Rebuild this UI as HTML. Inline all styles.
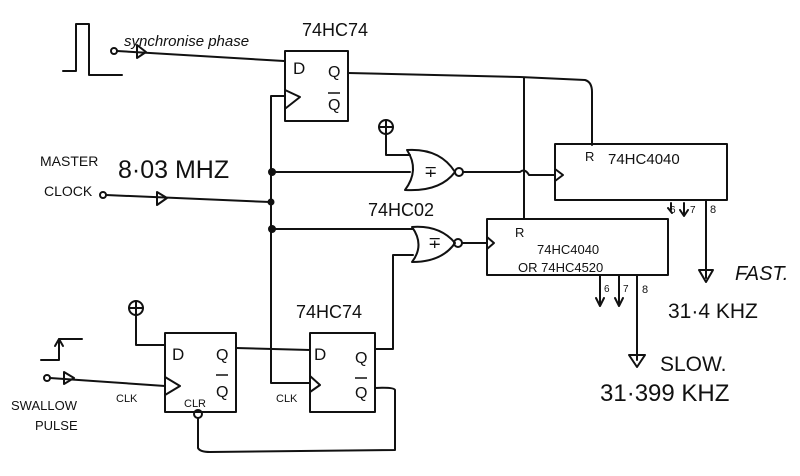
<!DOCTYPE html><html><head><style>body{margin:0;background:#fff}svg{display:block}text{font-family:"Liberation Sans",sans-serif;fill:#111}</style></head><body>
<svg width="800" height="476" viewBox="0 0 800 476" xmlns="http://www.w3.org/2000/svg">
<g fill="none" stroke="#111" stroke-width="2" stroke-linejoin="round" stroke-linecap="round">
<!-- top pulse -->
<path d="M63 71H76V24H89V75H122"/>
<circle cx="114" cy="51" r="3"/>
<path d="M117 51L284 61"/>
<path d="M137 45L146 52L137 58Z"/>
<!-- top FF -->
<rect x="285" y="51" width="63" height="70"/>
<path d="M285 90L300 97L286 108"/>
<path d="M285 96H271V383H310"/>
<!-- top FF Q -->
<path d="M348 73L520 77L585 80Q592 82 592 92V145"/>
<path d="M524 78V218"/>
<!-- master clock -->
<circle cx="103" cy="195" r="3"/>
<path d="M106 195L270 202"/>
<path d="M157 192L167 198L157 205Z"/>
<circle cx="272" cy="172" r="3" fill="#111"/><circle cx="271" cy="202" r="2.5" fill="#111"/><circle cx="272" cy="229" r="3" fill="#111"/>
<!-- top NOR -->
<path d="M272 172H410"/>
<circle cx="386" cy="127" r="7"/><path d="M379 127H393M386 120V134"/>
<path d="M386 134V155H410"/>
<path d="M407 150Q440 148 455 172Q440 192 405 190Q420 170 407 150Z"/>
<circle cx="459" cy="172" r="4"/>
<path d="M463 172H520Q525 168 529 175H555"/>
<path d="M555 169L563 175L555 181"/>
<rect x="555" y="144" width="172" height="56"/>
<path d="M671 203V210M668 208L672 213M684 203V215M680 210L684 216L688 210M706 200V278"/>
<path d="M699 270L706 282L713 270Z"/>
<!-- bottom NOR -->
<path d="M272 229H413"/>
<path d="M412 227Q440 225 455 243Q442 262 412 262Q425 245 412 227Z"/>
<circle cx="458" cy="243" r="4"/>
<path d="M462 243H487"/>
<path d="M487 237L494 243L487 249"/>
<rect x="487" y="219" width="181" height="56"/>
<path d="M393 255H413M393 255V349H375"/>
<path d="M600 276V305M596 298L600 306L604 298M619 276V305M615 298L619 306L623 298M637 276V360"/>
<path d="M629 355L637 367L645 355Z"/>
<!-- bottom left -->
<path d="M41 360H59V339H82"/><path d="M55 346L59 339L63 346"/>
<circle cx="47" cy="378" r="3"/><path d="M50 378L165 386"/><path d="M64 372L74 378L64 384Z"/>
<circle cx="136" cy="308" r="7"/><path d="M129 308H143M136 301V315"/>
<path d="M136 315V345H165"/>
<rect x="165" y="333" width="71" height="79"/>
<path d="M165 377L180 386L165 395"/>
<path d="M236 348L310 350"/>
<circle cx="198" cy="414" r="4"/>
<path d="M198 418V448Q200 452 210 452L395 450V390Q394 387 375 388"/>
<rect x="310" y="333" width="65" height="79"/>
<path d="M310 376L320 385L310 392"/>
</g>
<g font-size="14">
<text x="124" y="46" font-size="15" font-style="italic">synchronise phase</text>
<text x="302" y="36" font-size="18">74HC74</text>
<text x="293" y="74" font-size="17">D</text><text x="328" y="77" font-size="16">Q</text><text x="328" y="110" font-size="16">Q</text>
<path d="M328 93H340" stroke="#111" stroke-width="1.5"/>
<text x="40" y="166" font-size="14">MASTER</text>
<text x="44" y="196" font-size="14">CLOCK</text>
<text x="118" y="178" font-size="25">8·03 MHZ</text>
<text x="424" y="177" font-size="16">∓</text>
<text x="428" y="248" font-size="16">∓</text>
<text x="368" y="216" font-size="18">74HC02</text>
<text x="585" y="161" font-size="13">R</text><text x="608" y="164" font-size="15">74HC4040</text>
<text x="670" y="213" font-size="10">6</text><text x="690" y="213" font-size="10">7</text><text x="710" y="213" font-size="11">8</text>
<text x="735" y="280" font-size="20" font-style="italic">FAST.</text>
<text x="668" y="318" font-size="21">31·4 KHZ</text>
<text x="515" y="237" font-size="13">R</text>
<text x="537" y="254" font-size="13">74HC4040</text>
<text x="518" y="272" font-size="13">OR 74HC4520</text>
<text x="604" y="292" font-size="10">6</text><text x="623" y="292" font-size="10">7</text><text x="642" y="293" font-size="11">8</text>
<text x="660" y="371" font-size="21">SLOW.</text>
<text x="600" y="401" font-size="24">31·399 KHZ</text>
<text x="296" y="318" font-size="18">74HC74</text>
<text x="172" y="360" font-size="17">D</text><text x="216" y="360" font-size="16">Q</text><text x="216" y="397" font-size="16">Q</text>
<path d="M216 375H228" stroke="#111" stroke-width="1.5"/>
<text x="314" y="360" font-size="17">D</text><text x="355" y="363" font-size="16">Q</text><text x="355" y="398" font-size="16">Q</text>
<path d="M355 378H367" stroke="#111" stroke-width="1.5"/>
<text x="184" y="407" font-size="11">CLR</text>
<text x="116" y="402" font-size="11">CLK</text>
<text x="276" y="402" font-size="11">CLK</text>
<text x="11" y="410" font-size="13">SWALLOW</text>
<text x="35" y="430" font-size="13">PULSE</text>
</g>
</svg>
</body></html>
